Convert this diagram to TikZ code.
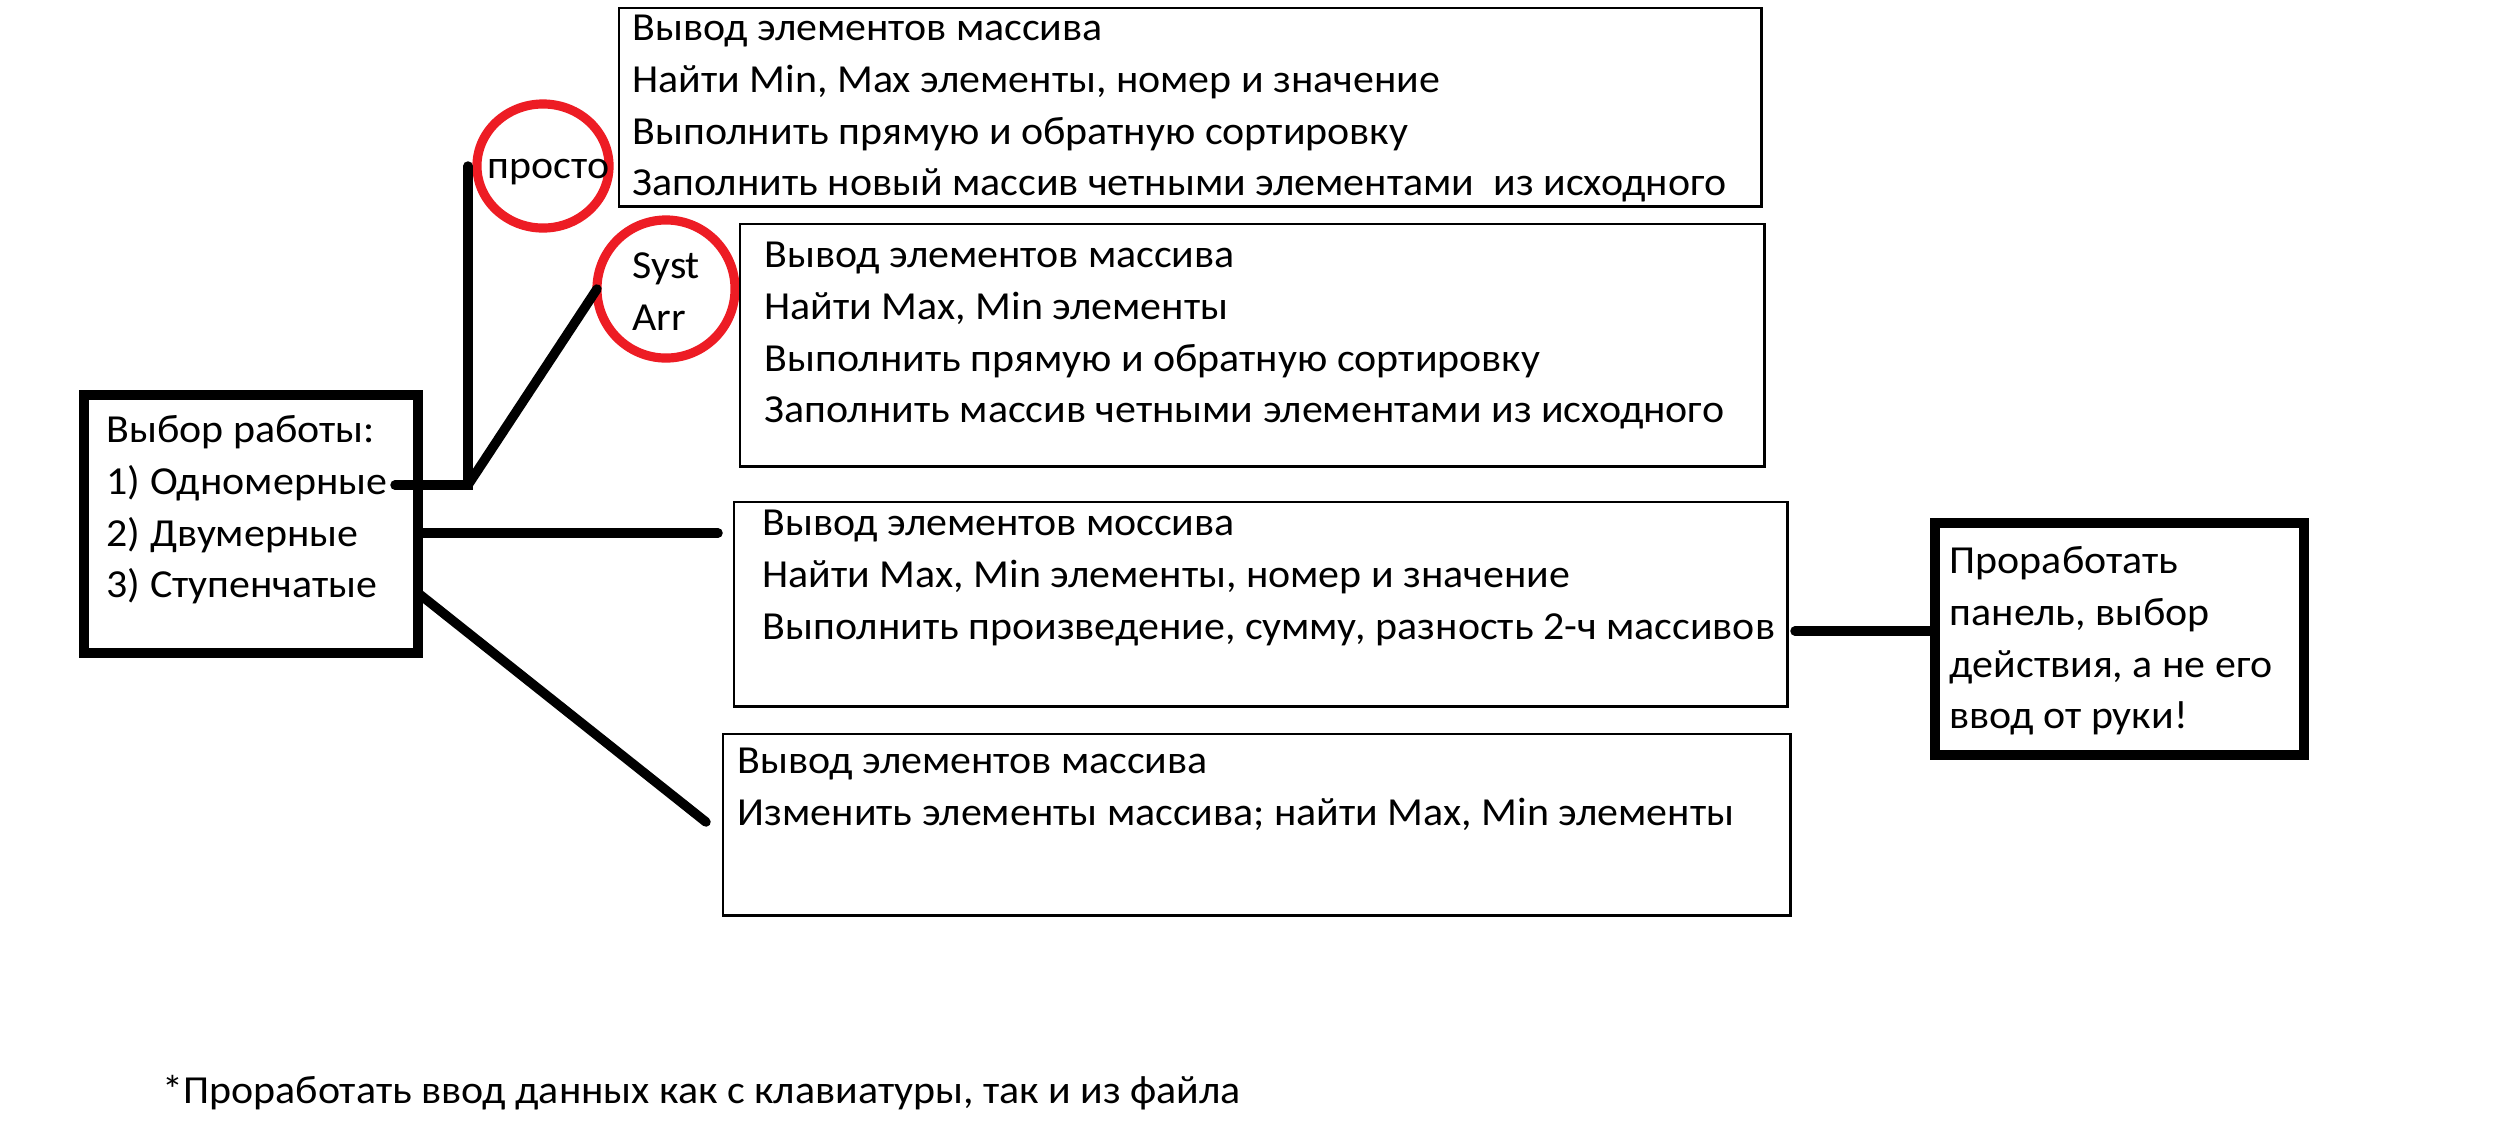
\documentclass[tikz,border=0pt]{standalone}
\usepackage{fontspec}
\setmainfont{Carlito}[FakeStretch=1.055]
\usetikzlibrary{positioning, shapes.geometric}
\definecolor{paintred}{RGB}{237,28,36}

\begin{document}
\begin{tikzpicture}[x=0.01cm, y=-0.01cm,
  every node/.style={font=\fontsize{11.3}{14.7}\selectfont},
  frame/.style={draw, line width=0.8pt, anchor=north west, inner sep=0pt, outer sep=0pt},
  boldframe/.style={draw, line width=2.7pt, anchor=north west, inner sep=0pt, outer sep=0pt},
  txt/.style={anchor=north west, align=left, inner sep=0pt},
  ring/.style={ellipse, draw=paintred, line width=2.6pt, inner sep=0pt, outer sep=0pt},
  link/.style={line width=2.7pt, line cap=round}]

\useasboundingbox (0,0) rectangle (2512,1132);

% choice of work
\node[boldframe, minimum width=3.34cm, minimum height=2.58cm] (vybor) at (84,395) {};
\node[txt] (vybor-txt) at (106,406)
  {\strut Выбор работы:\\1) Одномерные\\2) Двумерные\\3) Ступенчатые};

% red rings
\node[ring, minimum width=1.32cm, minimum height=1.24cm] (prosto) at (543,166) {};
\node[txt] (prosto-txt) at (487,142) {\strut просто};
\node[ring, minimum width=1.38cm, minimum height=1.38cm] (syst) at (666,289) {};
\node[txt] (syst-txt) at (632,242) {\strut Syst\\Arr};

% task boxes
\node[frame, minimum width=11.42cm, minimum height=1.98cm] (prostoBox) at (619,8) {};
\node[txt] (prostoBox-txt) at (632,4)
  {\strut Вывод элементов массива\\
   Найти Min, Max элементы, номер и значение\\
   Выполнить прямую и обратную сортировку\\
   Заполнить новый массив четными элементами~ из исходного};

\node[frame, minimum width=10.24cm, minimum height=2.42cm] (systBox) at (740,224) {};
\node[txt] (systBox-txt) at (764,231)
  {\strut Вывод элементов массива\\
   Найти Max, Min элементы\\
   Выполнить прямую и обратную сортировку\\
   Заполнить массив четными элементами из исходного};

\node[frame, minimum width=10.53cm, minimum height=2.04cm] (dvumBox) at (734,502) {};
\node[txt] (dvumBox-txt) at (762,499)
  {\strut Вывод элементов моссива\\
   Найти Max, Min элементы, номер и значение\\
   Выполнить произведение, сумму, разность 2-ч массивов};

\node[frame, minimum width=10.67cm, minimum height=1.81cm] (stupBox) at (723,734) {};
\node[txt] (stupBox-txt) at (737,737)
  {\strut Вывод элементов массива\\
   Изменить элементы массива; найти Max, Min элементы};

\node[boldframe, minimum width=3.69cm, minimum height=2.32cm] (panel) at (1935,523) {};
\node[txt] (panel-txt) at (1949,537)
  {\strut Проработать\\панель, выбор\\действия, а не его\\ввод от руки!};

\node[txt] (footnote) at (162,1067)
  {\strut *Проработать ввод данных как с клавиатуры, так и из файла};

% connectors
\coordinate (odn) at (395,485);
\coordinate (fork) at (468,485);
\draw[link] (odn) -- (fork) -- (fork |- prosto.west);
\draw[link] (fork) -- (syst.west);

\coordinate (dvuEnd) at (718,533);
\draw[link] (vybor.east |- dvuEnd) -- (dvuEnd);

\coordinate (stupStart) at (418,593);
\coordinate (stupEnd) at (706,822);
\draw[link] (stupStart) -- (stupEnd);

\coordinate (dvumTail) at (1795,631);
\draw[link] (dvumTail) -- (panel.west |- dvumTail);
\end{tikzpicture}
\end{document}
